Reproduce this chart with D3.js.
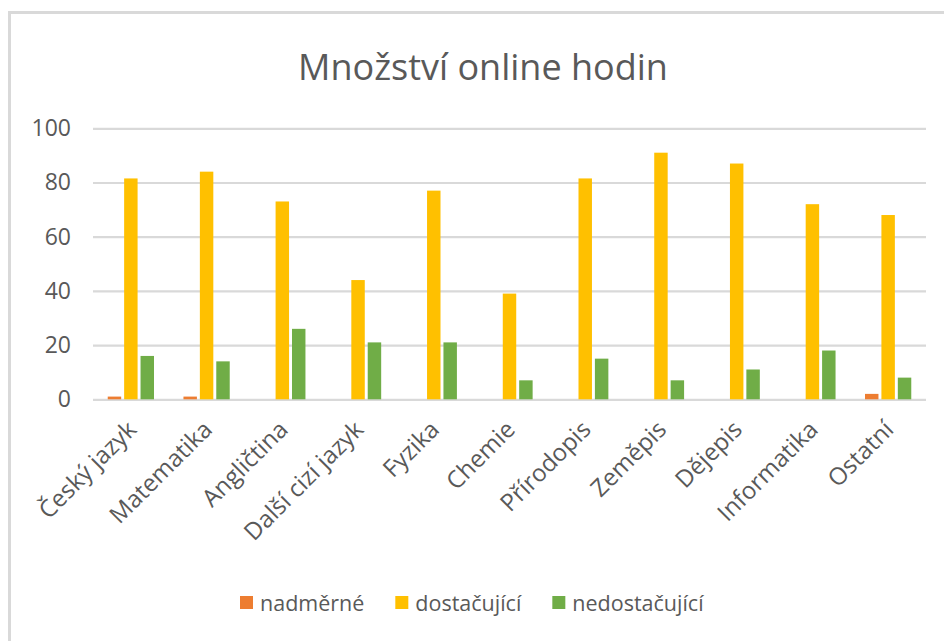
<!DOCTYPE html>
<html>
<head>
<meta charset="utf-8">
<script src="https://cdn.jsdelivr.net/npm/d3@7"></script>
<style>
    body { margin: 0; background: #fff; }
    svg { display: block; font-family: "Open Sans", sans-serif; }
</style>
</head>
<body>
<svg id="chart" width="944" height="641"></svg>
<script>
const categories = ["Český jazyk", "Matematika", "Angličtina", "Další cizí jazyk", "Fyzika", "Chemie",
    "Přírodopis", "Zeměpis", "Dějepis", "Informatika", "Ostatní"];
const seriesNames = ["nadměrné", "dostačující", "nedostačující"];
const nadmerne = [1, 1, 0, 0, 0, 0, 0, 0, 0, 0, 2];
const dostacujici = [81.5, 84, 73, 44, 77, 39, 81.5, 91, 87, 72, 68];
const nedostacujici = [16, 14, 26, 21, 21, 7, 15, 7, 11, 18, 8];
const yTicks = [0, 20, 40, 60, 80, 100];
const colors = ["#ED7D31", "#FFC000", "#70AD47"];

const values = [nadmerne, dostacujici, nedostacujici];
const rows = categories.map((c, i) => ({ category: c, vals: seriesNames.map((s, j) => ({ series: s, value: values[j][i] })) }));

const svg = d3.select("#chart");

// rámeček grafu
svg.append("rect")
    .attr("x", 9.5).attr("y", 12.5)
    .attr("width", 960).attr("height", 700)
    .attr("fill", "none")
    .attr("stroke", "#d9d9d9")
    .attr("stroke-width", 3);

svg.append("text")
    .attr("x", 483).attr("y", 80)
    .attr("text-anchor", "middle")
    .attr("fill", "#595959")
    .style("font-size", "36px")
    .text("Množství online hodin");

const x0 = d3.scaleBand().domain(categories).range([93, 926]);
const groupW = x0.bandwidth() * 0.65;
const x1 = d3.scaleBand().domain(seriesNames)
    .range([(x0.bandwidth() - groupW) / 2, (x0.bandwidth() + groupW) / 2])
    .paddingInner(0.18).paddingOuter(0.09);
const y = d3.scaleLinear().domain([0, 100]).range([399.3, 128.3]);

// mřížka + osa y
const yAxis = svg.append("g")
    .attr("transform", "translate(93,0)")
    .call(d3.axisLeft(y).tickValues(yTicks).tickSize(-833).tickPadding(22));
yAxis.select(".domain").remove();
yAxis.selectAll(".tick line").attr("stroke", "#d9d9d9").attr("stroke-width", 2.2);
yAxis.selectAll(".tick text")
    .attr("fill", "#595959")
    .style("font-size", "23px")
    .style("font-family", "Open Sans, sans-serif");

// sloupce
const groups = svg.append("g").selectAll("g")
    .data(rows)
    .join("g")
    .attr("transform", d => `translate(${x0(d.category)},0)`);

groups.selectAll("rect")
    .data(d => d.vals)
    .join("rect")
    .attr("x", d => x1(d.series))
    .attr("y", d => y(d.value))
    .attr("width", x1.bandwidth())
    .attr("height", d => y(0) - y(d.value))
    .attr("fill", (d, i) => colors[i]);

// popisky kategorií
svg.append("g").selectAll("text")
    .data(categories)
    .join("text")
    .attr("transform", d => `translate(${x0(d) + x0.bandwidth() / 2 + 7},${431}) rotate(-45)`)
    .attr("text-anchor", "end")
    .attr("fill", "#595959")
    .style("font-size", "24px")
    .text(d => d);

// legenda
const legend = svg.append("g");
let lx = 240;
seriesNames.forEach((s, i) => {
    legend.append("rect")
        .attr("x", lx).attr("y", 596)
        .attr("width", 13).attr("height", 13)
        .attr("fill", colors[i]);
    const t = legend.append("text")
        .attr("x", lx + 20).attr("y", 611)
        .attr("fill", "#595959")
        .style("font-size", "21.5px")
        .text(s);
    lx += 20 + t.node().getComputedTextLength() + 31;
});
</script>
</body>
</html>
